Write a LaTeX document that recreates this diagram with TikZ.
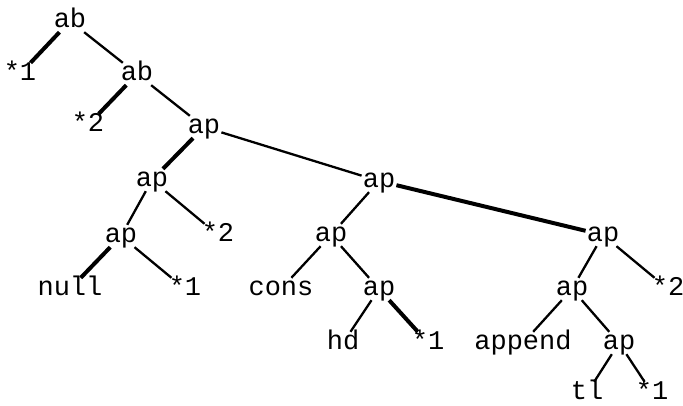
\documentclass[tikz,border=0pt]{standalone}
\usepackage{fontspec}
\setmonofont{Liberation Mono}
\begin{document}
\begin{tikzpicture}[x=1pt,y=-1pt,
  lbl/.style={font=\ttfamily\fontsize{27}{27}\selectfont, inner sep=1pt, text height=16pt, text depth=4pt},
  thin/.style={line width=2.3pt},
  thick/.style={line width=4pt}]
\useasboundingbox (0,0) rectangle (683,405);
\node[lbl] (ab1) at (70,21) {ab};
\node[lbl] (s1a) at (20,74) {*1};
\node[lbl] (ab2) at (137,74) {ab};
\node[lbl] (s2a) at (88,125) {*2};
\node[lbl] (ap1) at (204,127) {ap};
\node[lbl] (ap2) at (152,180) {ap};
\node[lbl] (ap3) at (121,236) {ap};
\node[lbl] (s2b) at (218,235) {*2};
\node[lbl] (null) at (70,289) {null};
\node[lbl] (s1b) at (185,289) {*1};
\node[lbl] (ap4) at (379,181) {ap};
\node[lbl] (ap5) at (331,235) {ap};
\node[lbl] (cons) at (281,289) {cons};
\node[lbl] (ap6) at (379,289) {ap};
\node[lbl] (hd) at (343,343) {hd};
\node[lbl] (s1c) at (428,343) {*1};
\node[lbl] (ap7) at (603,235) {ap};
\node[lbl] (s2c) at (668,289) {*2};
\node[lbl] (ap8) at (572,289) {ap};
\node[lbl] (app) at (523,343) {append};
\node[lbl] (ap9) at (619,343) {ap};
\node[lbl] (tl) at (587,393) {tl};
\node[lbl] (s1d) at (652,393) {*1};
\draw[thick] (ab1) -- (s1a);
\draw[thin] (ab1) -- (ab2);
\draw[thick] (ab2) -- (s2a);
\draw[thin] (ab2) -- (ap1);
\draw[thick] (ap1) -- (ap2);
\draw[thin] (ap1) -- (ap4);
\draw[thin] (ap2) -- (ap3);
\draw[thin] (ap2) -- (s2b);
\draw[thick] (ap3) -- (null);
\draw[thin] (ap3) -- (s1b);
\draw[thin] (ap4) -- (ap5);
\draw[thick] (ap4) -- (ap7);
\draw[thin] (ap5) -- (cons);
\draw[thin] (ap5) -- (ap6);
\draw[thin] (ap6) -- (hd);
\draw[thick] (ap6) -- (s1c);
\draw[thin] (ap7) -- (ap8);
\draw[thin] (ap7) -- (s2c);
\draw[thin] (ap8) -- (app);
\draw[thin] (ap8) -- (ap9);
\draw[thin] (ap9) -- (tl);
\draw[thin] (ap9) -- (s1d);
\end{tikzpicture}
\end{document}
